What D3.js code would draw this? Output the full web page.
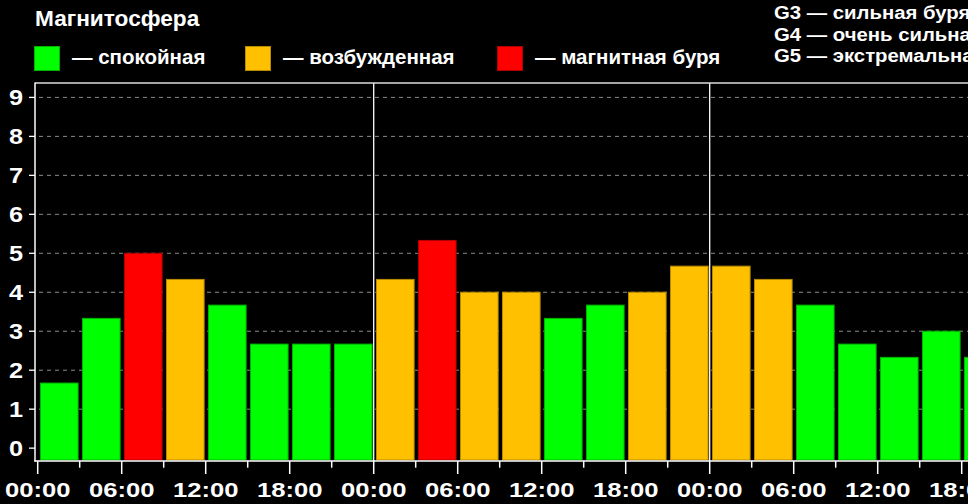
<!DOCTYPE html>
<html><head><meta charset="utf-8">
<script src="https://cdn.jsdelivr.net/npm/d3@7"></script>
<style>html,body{margin:0;padding:0;background:#000;overflow:hidden}</style>
</head><body>
<svg id="c" width="968" height="504"></svg>
<script>
// ---- data ----
const hours = [0,3,6,9,12,15,18,21, 24,27,30,33,36,39,42,45, 48,51,54,57,60,63,66];
const kp    = [1.67,3.33,5,4.33,3.67,2.67,2.67,2.67, 4.33,5.33,4,4,3.33,3.67,4,4.67, 4.67,4.33,3.67,2.67,2.33,3,2.33];
const state = ["q","q","s","a","q","q","q","q", "a","s","a","a","q","q","a","a", "a","a","q","q","q","q","q"];
const yTicks = [0,1,2,3,4,5,6,7,8,9];
const xTickLabels = ["00:00","06:00","12:00","18:00"];
const dayStarts = [24,48];
const legendItems = [
  {key:"q", label:"— спокойная"},
  {key:"a", label:"— возбужденная"},
  {key:"s", label:"— магнитная буря"}
];
const gLabels = ["G3 — сильная буря","G4 — очень сильная буря","G5 — экстремальная буря"];
const title = "Магнитосфера";

const fill   = {q:"#00ff00", a:"#ffc000", s:"#ff0000"};
const stroke = {q:"#00b400", a:"#b88a00", s:"#b00000"};

const svg = d3.select("#c");
svg.append("rect").attr("width",968).attr("height",504).attr("fill","#000");

const x = d3.scaleLinear().domain([0,72]).range([37.7, 37.7+72*14]);
const y = d3.scaleLinear().domain([-0.33, 9.37]).range([461, 83]);
const FONT = "'Liberation Sans', Arial, sans-serif";

function txt(g, s, tx, ty, size, sx, anchor){
  return g.append("text").text(s)
    .attr("transform",`translate(${tx},${ty}) scale(${sx},1)`)
    .attr("font-family",FONT).attr("font-weight","bold")
    .attr("font-size",size).attr("fill","#fff")
    .attr("text-anchor",anchor||"start");
}

// grid
svg.append("g").selectAll("line").data(yTicks.filter(d=>d>0)).join("line")
  .attr("x1",39).attr("x2",968)
  .attr("y1",d=>y(d)).attr("y2",d=>y(d))
  .attr("stroke","#8a8a8a").attr("stroke-width",1).attr("stroke-dasharray","4,4");

// bars
svg.append("g").selectAll("rect").data(hours).join("rect")
  .attr("x",(d)=>x(d)+2.8)
  .attr("width",(d)=>x(d+3)-x(d)-4.4)
  .attr("y",(d,i)=>y(kp[i]))
  .attr("height",(d,i)=>y(-0.33)-1-y(kp[i]))
  .attr("fill",(d,i)=>fill[state[i]])
  .attr("stroke",(d,i)=>stroke[state[i]])
  .attr("stroke-width",1);

// day separators
svg.append("g").selectAll("line").data(dayStarts).join("line")
  .attr("x1",d=>x(d)).attr("x2",d=>x(d))
  .attr("y1",83).attr("y2",461)
  .attr("stroke","#fff").attr("stroke-width",1.3);

// frame
svg.append("line").attr("x1",35).attr("x2",968).attr("y1",83).attr("y2",83).attr("stroke","#ddd").attr("stroke-width",1.3);
svg.append("line").attr("x1",35).attr("x2",35).attr("y1",82.5).attr("y2",461.5).attr("stroke","#fff").attr("stroke-width",1.5);
svg.append("line").attr("x1",34.3).attr("x2",968).attr("y1",461).attr("y2",461).attr("stroke","#fff").attr("stroke-width",1.5);

// y ticks & labels
const gy = svg.append("g");
yTicks.forEach(t=>{
  gy.append("line").attr("x1",29).attr("x2",35).attr("y1",y(t)).attr("y2",y(t)).attr("stroke","#fff").attr("stroke-width",1.3);
  txt(gy, String(t), 23, y(t)+8, 22, 1.15, "end");
});

// x ticks & labels
const gx = svg.append("g");
d3.range(0,73,3).forEach(h=>{
  const major = h%6===0;
  gx.append("line").attr("x1",x(h)).attr("x2",x(h))
    .attr("y1",461).attr("y2",major?474:467.7)
    .attr("stroke","#fff").attr("stroke-width",1.5);
  if(major) txt(gx, xTickLabels[(h/6)%4], x(h), 497, 21, 1.22, "middle");
});

// title
txt(svg, title, 35, 26, 22, 1.03, "start");

// legend
const legX = [34, 245, 497];
legendItems.forEach((it,i)=>{
  svg.append("rect").attr("x",legX[i]+0.5).attr("y",46.5).attr("width",25).attr("height",24)
    .attr("fill",fill[it.key]).attr("stroke",stroke[it.key]).attr("stroke-width",1);
  txt(svg, it.label, legX[i]+38, 64, 20.5, 1.0, "start");
});

// G levels
gLabels.forEach((s,i)=>{
  txt(svg, s, 774, 19+i*21.5, 18, 1.13, "start");
});
</script>
</body></html>
